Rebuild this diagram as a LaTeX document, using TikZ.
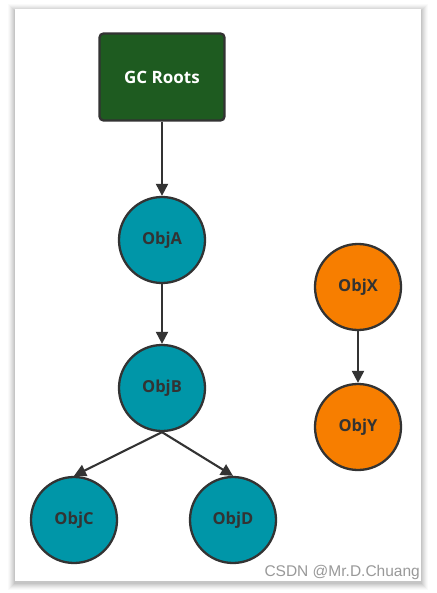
\documentclass[tikz,border=0pt]{standalone}
\usepackage{fontspec}
\setmainfont{Open Sans}
\newfontfamily\wmfont{Liberation Sans}
\usetikzlibrary{arrows.meta}
\definecolor{gcgreen}{HTML}{1E5B20}
\definecolor{teal}{HTML}{0096A8}
\definecolor{orng}{HTML}{F77E00}
\definecolor{edge}{HTML}{333333}
\tikzset{
  obj/.style={circle, draw=edge, line width=2.3pt, minimum size=86pt, inner sep=0pt,
    font=\bfseries\fontsize{16.5}{18}\selectfont, text=edge},
  reach/.style={obj, fill=teal},
  unreach/.style={obj, fill=orng},
  rootbox/.style={rectangle, rounded corners=4pt, draw=edge, line width=2.3pt, fill=gcgreen,
    minimum width=125pt, minimum height=87pt, text=white, font=\bfseries\fontsize{17}{19}\selectfont},
  link/.style={draw=edge, line width=2.1pt, -{Triangle[length=12pt,width=12pt]}}
}
\begin{document}
\begin{tikzpicture}[x=1pt,y=-1pt]
\useasboundingbox (0,0) rectangle (436,593);
\fill[white] (0,0) rectangle (436,593);
% card shadow
\foreach \i/\o in {7/0.02,6/0.025,5/0.03,4/0.035,3/0.04,2/0.045,1/0.05}{
  \fill[black,opacity=\o] (15-\i,9-\i+2) rectangle (421+\i,581+\i+2);
}
\fill[white] (15,9) rectangle (421,581);
\node[rootbox] (gc) at (162,77) {GC Roots};
\node[reach] (a) at (162,240) {ObjA};
\node[reach] (b) at (162,388) {ObjB};
\node[reach] (c) at (74,520) {ObjC};
\node[reach] (d) at (233,520) {ObjD};
\node[unreach] (x) at (358,287) {ObjX};
\node[unreach] (y) at (358,427) {ObjY};
\draw[link] (gc) -- (a);
\draw[link] (a) -- (b);
\draw[link] (b.south) -- (c.north);
\draw[link] (b.south) -- (d.north);
\draw[link] (x) -- (y);
\node[anchor=south east, inner sep=0pt, text=black!40, font=\wmfont\fontsize{15.5}{17}\selectfont] (wm) at (420,580) {CSDN @Mr.D.Chuang};
\end{tikzpicture}
\end{document}
